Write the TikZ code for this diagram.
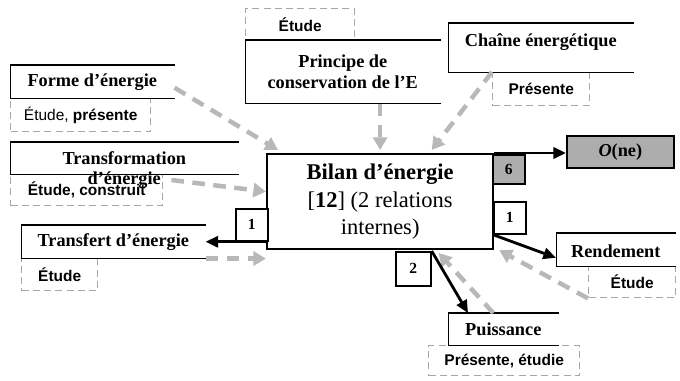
\documentclass[tikz,border=0pt]{standalone}
\usepackage{fontspec}
\setmainfont{Liberation Serif}
\setsansfont{Liberation Sans}
\usetikzlibrary{arrows.meta,calc}

\begin{document}
\begin{tikzpicture}[x=0.025cm,y=-0.025cm]
  \def\u{0.025cm}
  \colorlet{grayArrow}{black!28}
  \colorlet{grayDash}{black!35}
  \colorlet{grayFill}{black!32}
  \tikzset{
    titleBox/.style={anchor=north west, inner sep=0pt, align=center,
      font=\bfseries\fontsize{13}{14.5}\selectfont},
    tagBox/.style={anchor=north west, draw=grayDash, line width=1pt,
      dash pattern=on 5pt off 3pt, inner sep=0pt,
      font=\sffamily\bfseries\fontsize{11}{12}\selectfont},
    numBox/.style={anchor=north west, draw, line width=1.2pt, fill=white,
      inner sep=0pt, font=\bfseries\fontsize{11}{12}\selectfont},
    blackArrow/.style={line width=2pt, -{Triangle[length=9pt,width=8pt]}},
    grayArrowS/.style={grayArrow, line width=3.2pt, dash pattern=on 9pt off 6pt,
      -{Triangle[length=9pt,width=10pt]}}
  }
  \useasboundingbox (0,0) rectangle (680,381);

  % left column
  \node[titleBox, minimum width=164*\u, minimum height=33*\u] (forme) at (10,65) {Forme d’énergie};
  \node[tagBox, minimum width=140*\u, minimum height=33*\u] (formeTag) at (10,98) {\mdseries Étude, \bfseries présente};
  \node[titleBox, minimum width=228*\u, minimum height=32*\u] (transfo) at (10,142) {};
  \node[tagBox, minimum width=152*\u, minimum height=31*\u] (transfoTag) at (10,174) {Étude, construit};
  \node[titleBox, anchor=north] (transfoText) at ($(transfo.north)+(0,9)$) {Transformation\\d’énergie};
  \node[titleBox, minimum width=184*\u, minimum height=33*\u] (transf) at (21,225) {Transfert d’énergie};
  \node[tagBox, minimum width=76*\u, minimum height=32*\u] (transfTag) at (21,258) {Étude};

  % top
  \node[tagBox, minimum width=109*\u, minimum height=32*\u] (principeTag) at (245,8) {Étude};
  \node[titleBox, minimum width=195*\u, minimum height=63*\u] (principe) at (245,40) {Principe de\\conservation de l’E};
  \node[titleBox, minimum width=185*\u, minimum height=49*\u] (chaine) at (448,23) {Chaîne énergétique\\[-4pt]};
  \node[tagBox, minimum width=97*\u, minimum height=33*\u] (chaineTag) at (492,72) {Présente};

  % centre
  \node[anchor=north west, draw, line width=1.6pt, fill=white, inner sep=0pt, align=center,
    minimum width=226*\u, minimum height=95*\u, font=\fontsize{16}{19.5}\selectfont] (bilan) at (266,153)
    {\textbf{Bilan d’énergie}\\{[}\textbf{12}{]} (2 relations\\internes)};
  \node[numBox, fill=grayFill, minimum width=32*\u, minimum height=29*\u] (six) at (492,154) {6};
  \node[numBox, minimum width=32*\u, minimum height=32*\u] (oneRight) at (493,201) {1};
  \node[numBox, minimum width=32*\u, minimum height=32*\u] (oneLeft) at (235,208) {1};
  \node[numBox, minimum width=35*\u, minimum height=34*\u] (two) at (395,251) {2};

  % right side
  \node[anchor=north west, draw, line width=1.2pt, fill=grayFill, inner sep=0pt,
    minimum width=107*\u, minimum height=32*\u, font=\bfseries\fontsize{13}{14}\selectfont] (order) at (566,135) {\textit{O}(ne)};
  \node[titleBox, minimum width=119*\u, minimum height=33*\u] (rend) at (556,233) {\\[-3pt]Rendement};
  \node[tagBox, minimum width=87*\u, minimum height=31*\u] (rendTag) at (588,266) {Étude};
  \node[titleBox, minimum width=110*\u, minimum height=32*\u] (puis) at (448,313) {\\[-5pt]Puissance};
  \node[tagBox, minimum width=151*\u, minimum height=30*\u] (puisTag) at (428,345) {Présente, étudie};

  % box edges
  \foreach \n in {forme,transfo,transf,principe,chaine,rend,puis} {
    \draw[line width=1.3pt] (\n.north west) -- (\n.north east) (\n.south west) -- (\n.south east);
    \draw[thin] (\n.north west) -- (\n.south west);
  }

  % gray links
  \draw[grayArrowS] ([yshift=-6*\u]forme.east) -- ([xshift=12*\u,yshift=3*\u]bilan.north west);
  \draw[grayArrowS] ([xshift=8*\u,yshift=-6*\u]transfoTag.north east) -- ([yshift=10*\u]bilan.west);
  \draw[grayArrowS] (transf.south east) -- (transf.south east -| bilan.west);
  \draw[grayArrowS] (bilan.north |- principe.south) -- ([yshift=3*\u]bilan.north);
  \draw[grayArrowS] (chaineTag.north west) -- ([yshift=3*\u]bilan.north -| two.east);
  \draw[grayArrowS] (rendTag.south west) -- ([xshift=5*\u]bilan.south east);
  \draw[grayArrowS] ([xshift=-10*\u]puis.north) -- ([xshift=7*\u,yshift=-2*\u]two.north east);

  % black links
  \draw[blackArrow] (bilan.north east) -- (bilan.north east -| order.west);
  \draw[blackArrow] (transf.east -| bilan.west) -- (transf.east);
  \draw[blackArrow] (oneRight.south west) -- ([yshift=-8*\u]rend.west);
  \draw[blackArrow] (two.north east) -- ([xshift=20*\u]puis.north west);
\end{tikzpicture}
\end{document}
